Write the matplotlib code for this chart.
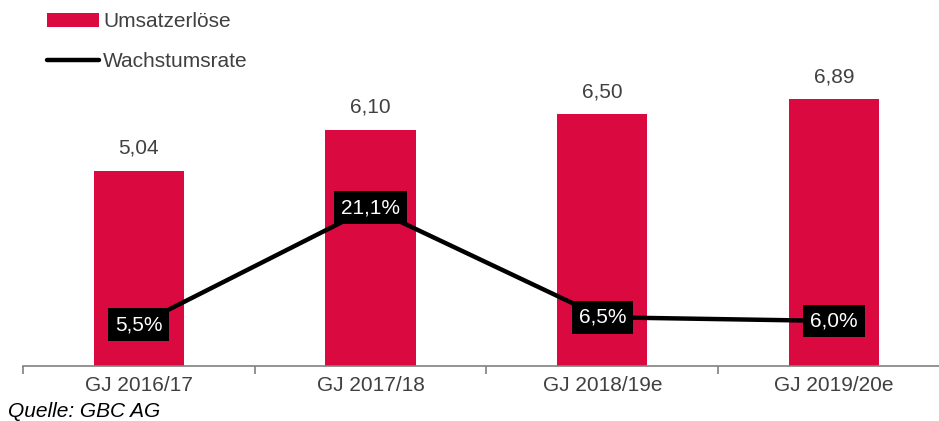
import matplotlib.pyplot as plt

plt.rcParams['font.family'] = ['Liberation Sans', 'DejaVu Sans']

# data
jahre = ["GJ 2016/17", "GJ 2017/18", "GJ 2018/19e", "GJ 2019/20e"]
umsatz = [5.04, 6.10, 6.50, 6.89]
wachstum = [5.5, 21.1, 6.5, 6.0]

rot = "#DA0A40"
grau = "#404040"

fig = plt.figure(figsize=(9.39, 4.21), dpi=100)
ax = fig.add_axes([0.0245, 0.1306, 0.987, 0.822])
x = range(len(jahre))

ax.bar(x, umsatz, width=0.39, color=rot, label="Umsatzerlöse")
for i, v in enumerate(umsatz):
    ax.text(i, v + 0.33, f"{v:.2f}".replace(".", ","), ha="center", va="bottom",
            fontsize=15, color=grau)

ax.set_xlim(-0.5, 3.5)
ax.set_ylim(0, 8.93)
ax.set_yticks([])
ax.set_xticks(list(x))
ax.set_xticklabels(jahre, fontsize=15, color=grau)
ax.set_xticks([-0.5, 0.5, 1.5, 2.5, 3.5], minor=True)
ax.tick_params(axis="x", which="major", length=0, pad=7)
ax.tick_params(axis="x", which="minor", length=6, color="#808080", width=1.2)
for s in ["top", "right", "left"]:
    ax.spines[s].set_visible(False)
ax.spines["bottom"].set_color("#808080")
ax.spines["bottom"].set_linewidth(1.2)

ax2 = ax.twinx()
ax2.plot(x, wachstum, color="black", lw=3.2, label="Wachstumsrate", solid_capstyle="round")
ax2.set_ylim(0, 46.1)
ax2.set_yticks([])
for s in ["top", "right", "left", "bottom"]:
    ax2.spines[s].set_visible(False)
for i, v in enumerate(wachstum):
    ax2.text(i, v, f"{v:.1f}%".replace(".", ","), ha="center", va="center",
             fontsize=15, color="white",
             bbox=dict(boxstyle="square,pad=0.33", fc="black", ec="none"))

h1, l1 = ax.get_legend_handles_labels()
h2, l2 = ax2.get_legend_handles_labels()
fig.legend(h1 + h2, l1 + l2, loc="upper left", bbox_to_anchor=(0.03, 1.015),
           frameon=False, fontsize=15, labelcolor=grau, handlelength=2.5,
           handletextpad=0.2, labelspacing=1.0)

fig.text(0.008, 0.022, "Quelle: GBC AG", fontsize=15, style="italic", color="black",
         va="center")

fig.savefig("out.png", dpi=100)
